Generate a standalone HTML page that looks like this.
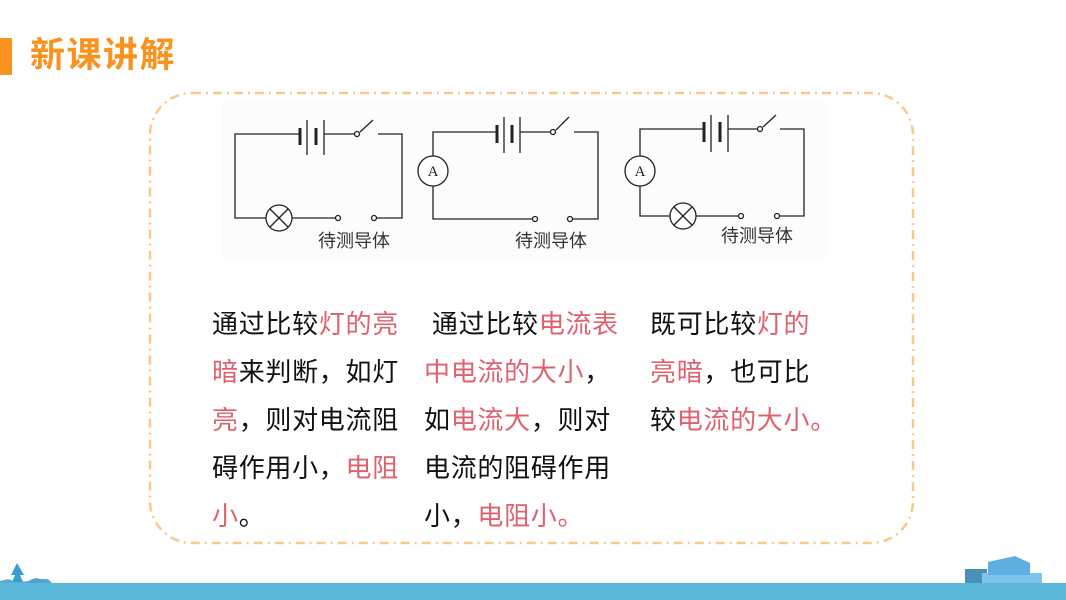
<!DOCTYPE html>
<html><head><meta charset="utf-8">
<style>
html,body{margin:0;padding:0;}
body{width:1066px;height:600px;position:relative;overflow:hidden;background:#fff;font-family:"Liberation Sans","Noto Sans CJK SC",sans-serif;}
.bar{position:absolute;left:0;top:38px;width:12px;height:37px;background:#f7931e;}
.title{position:absolute;left:30px;top:33px;font-size:35px;font-weight:bold;color:#f7931e;line-height:46px;letter-spacing:1.5px;}
.col{position:absolute;top:300px;font-size:26px;letter-spacing:0.7px;line-height:48px;color:#111;white-space:nowrap;}
.r{color:#e0606e;}
</style></head><body>
<div class="bar"></div>
<div class="title">新课讲解</div>
<svg width="1066" height="600" style="position:absolute;left:0;top:0">
<rect x="150" y="93" width="763" height="450" rx="42" ry="42" fill="none" stroke="#f9c98a" stroke-width="2.5" stroke-dasharray="9 5 2 5"/>
<rect x="222" y="102" width="606" height="156" fill="#fcfcfc"/>
<g stroke="#222" stroke-width="1.3" fill="none">
<polyline points="300,134 235,134 235,218 266,218"/>
<line x1="292" y1="218" x2="335" y2="218"/>
<line x1="324" y1="134" x2="354" y2="134"/>
<line x1="360" y1="132" x2="373" y2="120"/>
<polyline points="378,134 402,134 402,218 377,218"/>
<circle cx="357" cy="134" r="2.5" fill="#fff"/>
<circle cx="338" cy="218" r="2.5" fill="#fff"/>
<circle cx="374" cy="218" r="2.5" fill="#fff"/>
<circle cx="279" cy="218" r="13" fill="#fff"/>
<line x1="270" y1="209" x2="288" y2="227"/><line x1="288" y1="209" x2="270" y2="227"/>
<line x1="300" y1="128" x2="300" y2="145" stroke-width="3"/>
<line x1="307" y1="120" x2="307" y2="155"/>
<line x1="316" y1="128" x2="316" y2="145" stroke-width="3"/>
<line x1="324" y1="120" x2="324" y2="155"/>
<polyline points="497,132 433,132 433,156"/>
<polyline points="433,186 433,219 532,219"/>
<line x1="520" y1="132" x2="550" y2="132"/>
<line x1="556" y1="130" x2="569" y2="117"/>
<polyline points="574,132 598,132 598,219 573,219"/>
<circle cx="553" cy="132" r="2.5" fill="#fff"/>
<circle cx="535" cy="219" r="2.5" fill="#fff"/>
<circle cx="570" cy="219" r="2.5" fill="#fff"/>
<ellipse cx="433" cy="171" rx="15" ry="15" fill="#fff"/>
<line x1="497" y1="125" x2="497" y2="143" stroke-width="3"/>
<line x1="504" y1="117" x2="504" y2="153"/>
<line x1="512" y1="125" x2="512" y2="143" stroke-width="3"/>
<line x1="520" y1="117" x2="520" y2="153"/>
<polyline points="704,129 640,129 640,156"/>
<polyline points="640,186 640,216 670,216"/>
<line x1="696" y1="216" x2="738" y2="216"/>
<line x1="728" y1="129" x2="757" y2="129"/>
<line x1="763" y1="127" x2="776" y2="115"/>
<polyline points="780,129 804,129 804,216 780,216"/>
<circle cx="760" cy="129" r="2.5" fill="#fff"/>
<circle cx="741" cy="216" r="2.5" fill="#fff"/>
<circle cx="777" cy="216" r="2.5" fill="#fff"/>
<ellipse cx="640" cy="171" rx="15" ry="15" fill="#fff"/>
<circle cx="683" cy="216" r="13" fill="#fff"/>
<line x1="674" y1="207" x2="692" y2="225"/><line x1="692" y1="207" x2="674" y2="225"/>
<line x1="704" y1="122" x2="704" y2="142" stroke-width="3"/>
<line x1="711" y1="115" x2="711" y2="152"/>
<line x1="720" y1="122" x2="720" y2="142" stroke-width="3"/>
<line x1="728" y1="115" x2="728" y2="152"/>
</g>
<g font-family="Liberation Serif,serif" font-size="15" fill="#222" text-anchor="middle">
<text x="433" y="176">A</text><text x="640" y="176">A</text>
</g>
<g font-family="'Liberation Sans','Noto Sans CJK SC',sans-serif" font-size="18" fill="#333">
<text x="318" y="247">待测导体</text>
<text x="515" y="247">待测导体</text>
<text x="721" y="242">待测导体</text>
</g>
<rect x="0" y="583" width="1066" height="17" fill="#5ab8d8"/>
<path d="M0,583 L0,581 L8,579 L16,582 L30,581 L40,579 L48,579 L52,583 Z" fill="#5aaad6"/>
<path d="M26,583 L30,580 L36,578 L44,580 L50,583 Z" fill="#4fa3d3"/>
<polygon points="17,563 11,575 15,575 12,582 23,582 20,575 24,575" fill="#3a9ed2"/>
<rect x="965" y="569" width="22" height="14" fill="#4a8fb8"/>
<rect x="982" y="573" width="60" height="10" fill="#7fc5ea"/>
<polygon points="988,562 1015,556 1030,563 1030,575 988,575" fill="#5eaee0"/>
</svg>
<div class="col" style="left:212px"><span>通过比较</span><span class="r">灯的亮</span><br><span class="r">暗</span>来判断，如灯<br><span class="r">亮</span>，则对电流阻<br>碍作用小，<span class="r">电阻</span><br><span class="r">小</span>。</div>
<div class="col" style="left:424px">&nbsp;通过比较<span class="r">电流表</span><br><span class="r">中电流的大小</span>，<br>如<span class="r">电流大</span>，则对<br>电流的阻碍作用<br>小，<span class="r">电阻小。</span></div>
<div class="col" style="left:650px">既可比较<span class="r">灯的</span><br><span class="r">亮暗</span>，也可比<br>较<span class="r">电流的大小。</span></div>
</body></html>
